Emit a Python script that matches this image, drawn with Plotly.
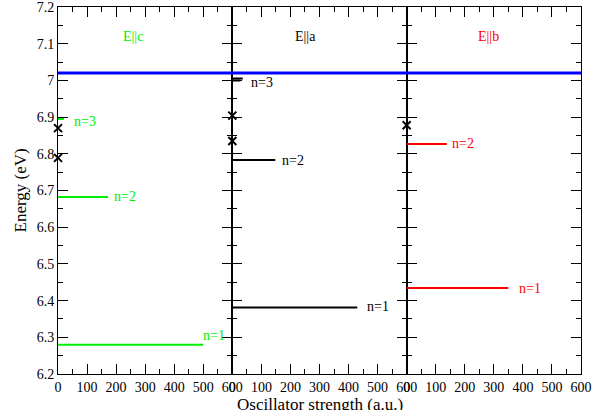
import plotly.graph_objects as go
from plotly.subplots import make_subplots

# ---- data ----
panel_titles = ["E||c", "E||a", "E||b"]
panel_colors = ["#00ee00", "#000000", "#ff0000"]

c_energy = [6.28, 6.682, 6.895]
c_strength = [500, 172, 20]
c_labels = ["n=1", "n=2", "n=3"]

a_energy = [6.381, 6.783, 7.005, 7.0]
a_strength = [430, 148, 36, 28]
a_labels = ["n=1", "n=2", "n=3", ""]

b_energy = [6.434, 6.827]
b_strength = [350, 138]
b_labels = ["n=1", "n=2"]

c_cross = [6.87, 6.789]
a_cross = [6.904, 6.835]
b_cross = [6.878]

band_edge = 7.02

x_ticks = [0, 100, 200, 300, 400, 500, 600]
y_ticks = [6.2, 6.3, 6.4, 6.5, 6.6, 6.7, 6.8, 6.9, 7.0, 7.1, 7.2]
y_ticktext = ["6.2", "6.3", "6.4", "6.5", "6.6", "6.7", "6.8", "6.9", "7", "7.1", "7.2"]

# label placement (style)
c_label_pos = [(493, 6.305), (186, 6.683), (48, 6.887)]
a_label_pos = [(455, 6.383), (165, 6.783), (59, 6.994), None]
b_label_pos = [(380, 6.434), (148, 6.827)]
title_pos = [(258, 7.12), (252, 7.12), (283, 7.12)]

FONT = "Liberation Serif"

fig = make_subplots(rows=1, cols=3, shared_yaxes=True, horizontal_spacing=0)

panels = [
    (c_energy, c_strength, c_labels, c_cross, c_label_pos),
    (a_energy, a_strength, a_labels, a_cross, a_label_pos),
    (b_energy, b_strength, b_labels, b_cross, b_label_pos),
]

for i, (en, st, lab, cr, lpos) in enumerate(panels):
    col = i + 1
    color = panel_colors[i]
    for e, s in zip(en, st):
        fig.add_trace(go.Scatter(x=[0, s], y=[e, e], mode="lines",
                                 line=dict(color=color, width=2),
                                 showlegend=False, hoverinfo="skip"),
                      row=1, col=col)
    fig.add_trace(go.Scatter(x=[0] * len(cr), y=cr, mode="markers",
                             marker=dict(symbol="x-thin", size=8,
                                         line=dict(color="black", width=2)),
                             cliponaxis=False, showlegend=False),
                  row=1, col=col)
    xref = "x" if col == 1 else f"x{col}"
    for t, p in zip(lab, lpos):
        if p is None or not t:
            continue
        fig.add_annotation(x=p[0], y=p[1], xref=xref, yref="y", text=t,
                           showarrow=False, xanchor="left", yanchor="middle",
                           font=dict(family=FONT, size=14, color=color))
    fig.add_annotation(x=title_pos[i][0], y=title_pos[i][1], xref=xref, yref="y",
                       text=panel_titles[i], showarrow=False,
                       font=dict(family=FONT, size=14, color=color))

fig.add_shape(type="line", xref="paper", yref="y", x0=0, x1=1,
              y0=band_edge, y1=band_edge, line=dict(color="#0000ff", width=3))

for col in (1, 2, 3):
    fig.update_xaxes(range=[0, 600], tickvals=x_ticks, ticks="inside", ticklen=10,
                     tickwidth=1, tickcolor="black", automargin=False,
                     showline=True, linecolor="black", linewidth=1, mirror="ticks",
                     showgrid=False, zeroline=False, ticklabeloverflow="allow",
                     minor=dict(ticks="inside", dtick=50, tick0=0, ticklen=5,
                                tickcolor="black", tickwidth=1, showgrid=False),
                     tickfont=dict(family=FONT, size=14, color="black"),
                     row=1, col=col)
    fig.update_yaxes(range=[6.2, 7.2], tickvals=y_ticks, ticktext=y_ticktext,
                     ticks="inside", ticklen=10, tickwidth=1, tickcolor="black",
                     automargin=False,
                     showline=True, linecolor="black", linewidth=1, mirror="ticks",
                     showgrid=False, zeroline=False, ticklabeloverflow="allow",
                     minor=dict(ticks="inside", dtick=0.05, tick0=6.2, ticklen=5,
                                tickcolor="black", tickwidth=1, showgrid=False),
                     tickfont=dict(family=FONT, size=14, color="black"),
                     row=1, col=col)

fig.add_annotation(x=0.5, y=-30 / 367, xref="paper", yref="paper",
                   text="Oscillator strength (a.u.)", showarrow=False,
                   yanchor="middle", xanchor="center",
                   font=dict(family=FONT, size=17, color="black"))
fig.add_annotation(x=0, y=0.5, xref="paper", yref="paper", xshift=-38,
                   xanchor="center", yanchor="middle",
                   text="Energy (eV)", showarrow=False, textangle=-90,
                   font=dict(family=FONT, size=17, color="black"))

fig.update_layout(width=600, height=410, margin=dict(l=58, r=19, t=7, b=36),
                  plot_bgcolor="white", paper_bgcolor="white",
                  showlegend=False)

fig.write_html("out.html")
